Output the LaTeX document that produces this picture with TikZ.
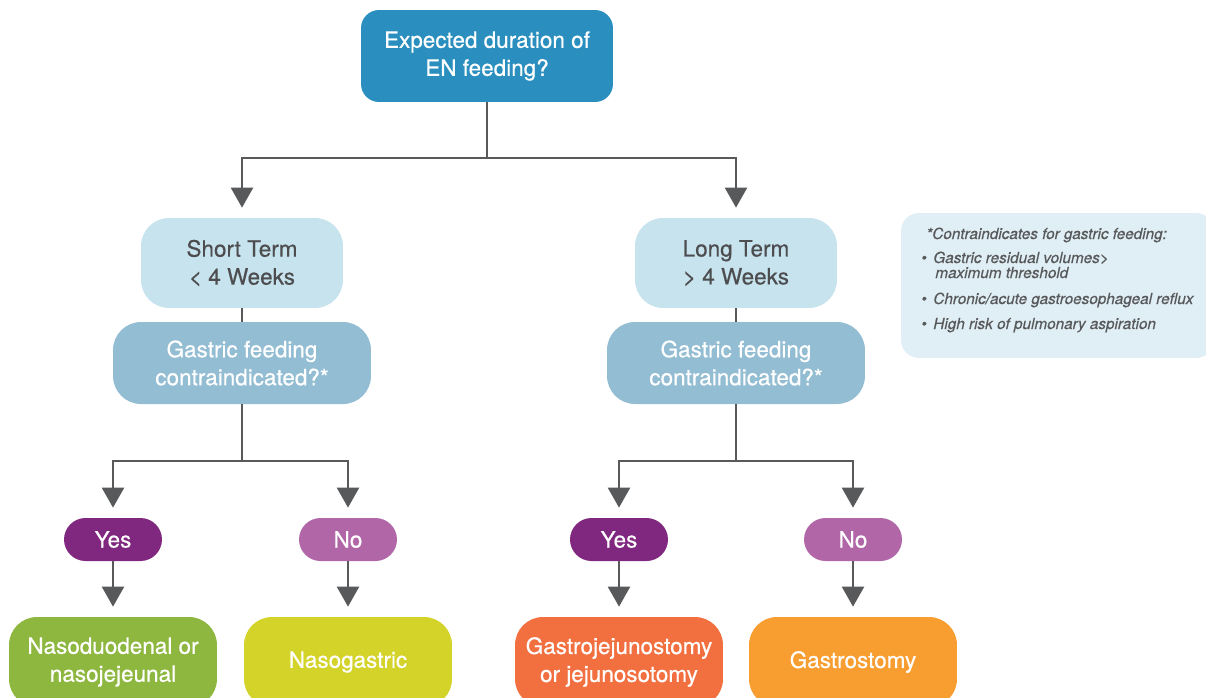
\documentclass[tikz,border=0pt]{standalone}
\usepackage{fontspec}
\setmainfont{TeX Gyre Heros}[FakeBold=0.5]
\usepackage{tikz}
\usetikzlibrary{arrows.meta}

\definecolor{topblue}{HTML}{2A8FBE}
\definecolor{paleblue}{HTML}{C6E3EE}
\definecolor{midblue}{HTML}{93BDD3}
\definecolor{notebg}{HTML}{E0EFF5}
\definecolor{yespurple}{HTML}{80287F}
\definecolor{nopurple}{HTML}{B066A7}
\definecolor{nasogreen}{HTML}{8DB73F}
\definecolor{nasoyellow}{HTML}{D4D32A}
\definecolor{jejunored}{HTML}{F27040}
\definecolor{gastroorange}{HTML}{F89D2F}
\definecolor{linegray}{HTML}{58595B}
\definecolor{textgray}{HTML}{4D4D4F}

\tikzset{
	every node/.style={inner sep=0pt, align=center, font=\fontsize{12.8}{15.9}\selectfont},
	termbox/.style={fill=paleblue, text=textgray, rounded corners=0.56cm, minimum width=4.04cm, minimum height=1.8cm},
	askbox/.style={fill=midblue, text=white, rounded corners=0.56cm, minimum width=5.16cm, minimum height=1.64cm},
	pill/.style={fill=#1, text=white, rounded corners=0.43cm, minimum width=1.96cm, minimum height=0.86cm},
	routebox/.style={fill=#1, text=white, rounded corners=0.56cm, minimum width=4.16cm, minimum height=1.8cm},
	link/.style={draw=linegray, line width=1.3pt},
	arr/.style={link, -{Triangle[width=0.44cm,length=0.4cm]}, shorten >=0.2cm},
	notetext/.style={anchor=base west, text=linegray, font=\fontsize{8.7}{10}\selectfont\itshape}
}

\begin{document}
\begin{tikzpicture}[x=0.02cm, y=-0.02cm]
	\useasboundingbox (0,0) rectangle (1206,697);
	\clip (0,0) rectangle (1206,697);
	% question
	\node[fill=topblue, text=white, rounded corners=0.36cm, minimum width=5.04cm, minimum height=1.84cm] (top) at (487,56) {Expected duration of\\EN feeding?};
	% short and long term
	\node[termbox] (short) at (242,263) {Short Term\\< 4 Weeks};
	\node[termbox] (long) at (736,263) {Long Term\\> 4 Weeks};
	\node[askbox] (ask1) at (242,363) {Gastric feeding\\contraindicated?*};
	\node[askbox] (ask2) at (736,363) {Gastric feeding\\contraindicated?*};
	% answers
	\node[pill=yespurple] (yes1) at (113,539.5) {Yes};
	\node[pill=nopurple] (no1) at (348,539.5) {No};
	\node[pill=yespurple] (yes2) at (619,539.5) {Yes};
	\node[pill=nopurple] (no2) at (853,539.5) {No};
	% routes
	\node[routebox=nasogreen] (nasoduo) at (113,662) {Nasoduodenal or\\nasojejeunal};
	\node[routebox=nasoyellow] (nasogas) at (348,662) {Nasogastric};
	\node[routebox=jejunored] (gastrojej) at (619,662) {Gastrojejunostomy\\or jejunosotomy};
	\node[routebox=gastroorange] (gastro) at (853,662) {Gastrostomy};
	% connectors
	\draw[link] (top.south) -- (top.south |- 0,158) coordinate (fork);
	\draw[arr] (fork) -| (short.north);
	\draw[arr] (fork) -| (long.north);
	\draw[link] (short.south) -- (ask1.north);
	\draw[link] (long.south) -- (ask2.north);
	\draw[link] (ask1.south) -- (ask1.south |- 0,461) coordinate (fork1);
	\draw[arr] (fork1) -| (yes1.north);
	\draw[arr] (fork1) -| (no1.north);
	\draw[link] (ask2.south) -- (ask2.south |- 0,461) coordinate (fork2);
	\draw[arr] (fork2) -| (yes2.north);
	\draw[arr] (fork2) -| (no2.north);
	\draw[arr] (yes1.south) -- (nasoduo.north);
	\draw[arr] (no1.south) -- (nasogas.north);
	\draw[arr] (yes2.south) -- (gastrojej.north);
	\draw[arr] (no2.south) -- (gastro.north);
	% note
	\fill[notebg, rounded corners=0.36cm] (901,213) rectangle (1214,358);
	\node[notetext] (notehead) at (926,239) {*Contraindicates for gastric feeding:};
	\node[notetext] (dot1) at (921,263) {\textbullet};
	\node[notetext] (item1) at (933,263) {Gastric residual volumes>};
	\node[notetext] (item1b) at (935,278) {maximum threshold};
	\node[notetext] (dot2) at (921,304) {\textbullet};
	\node[notetext] (item2) at (933,304) {Chronic/acute gastroesophageal reflux};
	\node[notetext] (dot3) at (921,329) {\textbullet};
	\node[notetext] (item3) at (933,329) {High risk of pulmonary aspiration};
\end{tikzpicture}
\end{document}
